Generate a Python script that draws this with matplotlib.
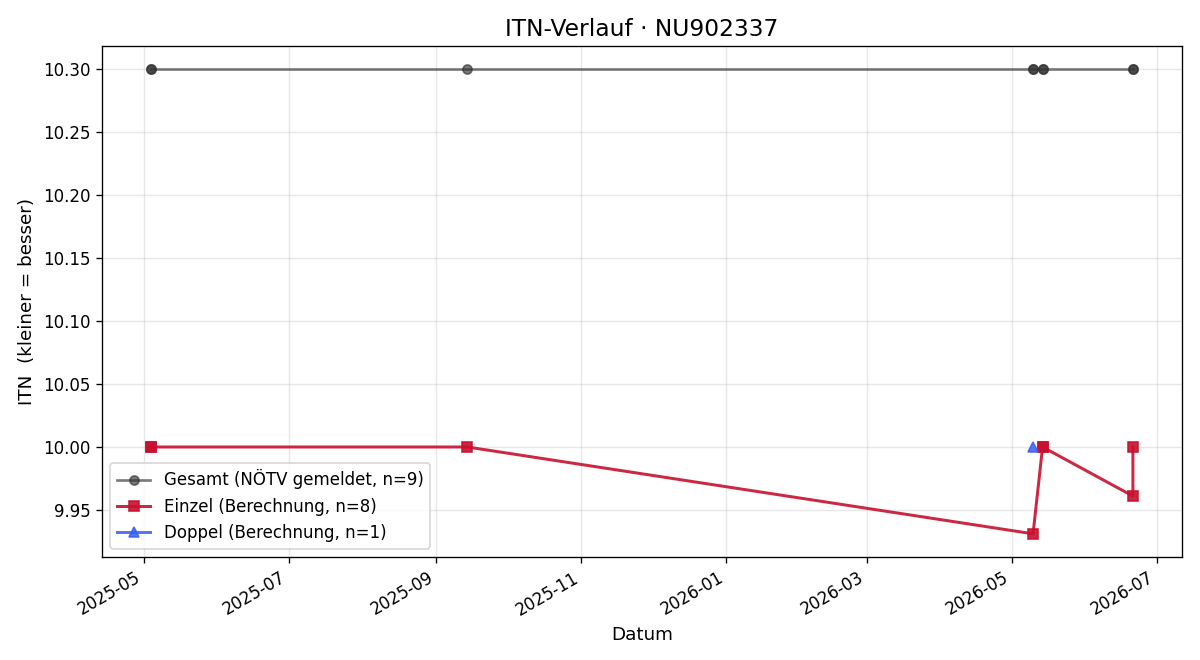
import pandas as pd
import matplotlib.pyplot as plt
import matplotlib.dates as mdates

# Gesamt (reported ITN), several entries fall on the same day
gesamt_dates = ['2025-05-04', '2025-05-04', '2025-09-14', '2026-05-10', '2026-05-10',
                '2026-05-14', '2026-05-14', '2026-06-21', '2026-06-21']
gesamt_itn = [10.30, 10.30, 10.30, 10.30, 10.30, 10.30, 10.30, 10.30, 10.30]

# Einzel (computed)
einzel_dates = ['2025-05-04', '2025-05-04', '2025-09-14', '2026-05-10',
                '2026-05-14', '2026-05-14', '2026-06-21', '2026-06-21']
einzel_itn = [10.00, 10.00, 10.00, 9.931, 10.00, 10.00, 9.961, 10.00]

# Doppel (computed)
doppel_dates = ['2026-05-10']
doppel_itn = [10.00]

gesamt_dates = pd.to_datetime(gesamt_dates)
einzel_dates = pd.to_datetime(einzel_dates)
doppel_dates = pd.to_datetime(doppel_dates)

fig, ax = plt.subplots(figsize=(10, 5.5), dpi=120)

ax.plot(gesamt_dates, gesamt_itn, marker='o', color='#333333', alpha=0.65,
        linewidth=1.6, markersize=5.5, label=f'Gesamt (NÖTV gemeldet, n={len(gesamt_itn)})')
ax.plot(einzel_dates, einzel_itn, marker='s', color='#c8102e', alpha=0.9,
        linewidth=1.8, markersize=6, label=f'Einzel (Berechnung, n={len(einzel_itn)})')
ax.plot(doppel_dates, doppel_itn, marker='^', color='#3a5ff0', alpha=0.85,
        linewidth=1.8, markersize=6, label=f'Doppel (Berechnung, n={len(doppel_itn)})')

ax.set_title('ITN-Verlauf · NU902337', fontsize=14)
ax.set_xlabel('Datum', fontsize=11)
ax.set_ylabel('ITN  (kleiner = besser)', fontsize=11)
ax.grid(True, alpha=0.3)
ax.xaxis.set_major_locator(mdates.MonthLocator(interval=2))
ax.xaxis.set_major_formatter(mdates.DateFormatter('%Y-%m'))
ax.legend(loc='lower left', fontsize=10)
fig.autofmt_xdate()

fig.subplots_adjust(left=0.085, right=0.985, top=0.93, bottom=0.156)
plt.savefig('out.png')
